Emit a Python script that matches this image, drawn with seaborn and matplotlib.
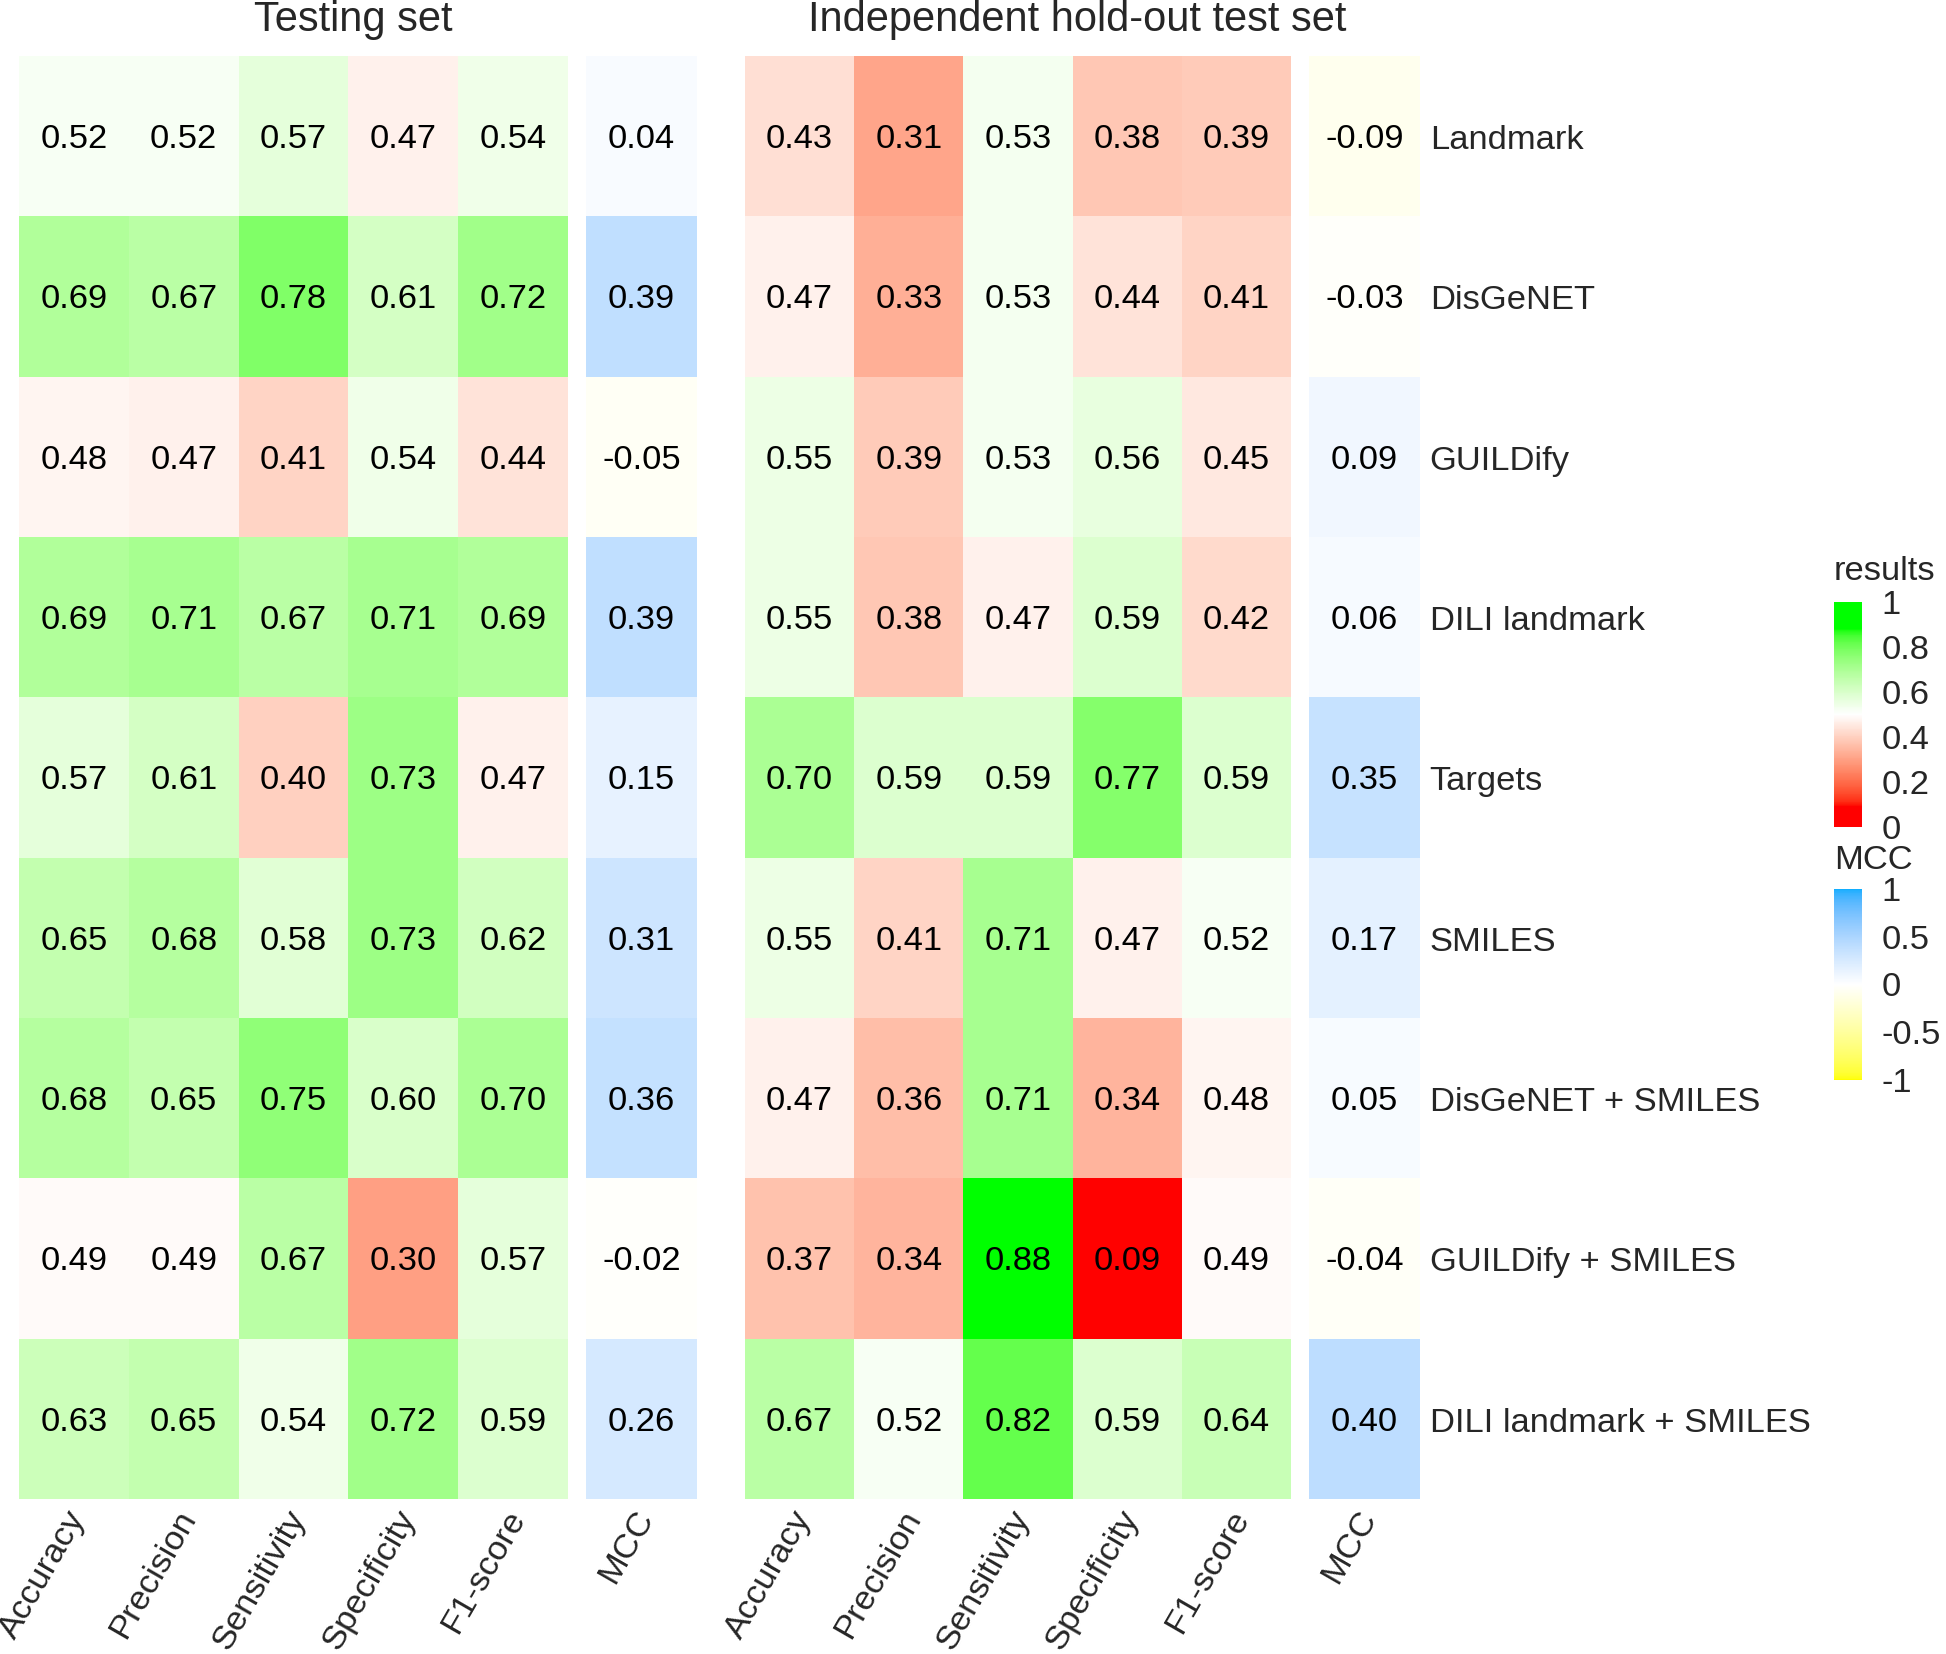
#!/usr/bin/env python3
"""Heatmap of model performance on testing set and hold-out test set
"""

import numpy as np
import pandas as pd
import matplotlib
matplotlib.use('Agg')
import matplotlib.pyplot as plt
import matplotlib.colors as mcolors
from matplotlib.transforms import ScaledTranslation
import seaborn as sns


features = ['Landmark', 'DisGeNET', 'GUILDify', 'DILI landmark', 'Targets',
            'SMILES', 'DisGeNET + SMILES', 'GUILDify + SMILES',
            'DILI landmark + SMILES']
metrics = ['Accuracy', 'Precision', 'Sensitivity', 'Specificity', 'F1-score']

# testing set
test_accuracy = [0.52, 0.69, 0.48, 0.69, 0.57, 0.65, 0.68, 0.49, 0.63]
test_precision = [0.52, 0.67, 0.47, 0.71, 0.61, 0.68, 0.65, 0.49, 0.65]
test_sensitivity = [0.57, 0.78, 0.41, 0.67, 0.40, 0.58, 0.75, 0.67, 0.54]
test_specificity = [0.47, 0.61, 0.54, 0.71, 0.73, 0.73, 0.60, 0.30, 0.72]
test_f1 = [0.54, 0.72, 0.44, 0.69, 0.47, 0.62, 0.70, 0.57, 0.59]
test_mcc = [0.04, 0.39, -0.05, 0.39, 0.15, 0.31, 0.36, -0.02, 0.26]

# independent hold-out test set
hold_accuracy = [0.43, 0.47, 0.55, 0.55, 0.70, 0.55, 0.47, 0.37, 0.67]
hold_precision = [0.31, 0.33, 0.39, 0.38, 0.59, 0.41, 0.36, 0.34, 0.52]
hold_sensitivity = [0.53, 0.53, 0.53, 0.47, 0.59, 0.71, 0.71, 0.88, 0.82]
hold_specificity = [0.38, 0.44, 0.56, 0.59, 0.77, 0.47, 0.34, 0.09, 0.59]
hold_f1 = [0.39, 0.41, 0.45, 0.42, 0.59, 0.52, 0.48, 0.49, 0.64]
hold_mcc = [-0.09, -0.03, 0.09, 0.06, 0.35, 0.17, 0.05, -0.04, 0.40]

W, H = 1946, 1654
FS = 24.8


def srgb_to_lab(rgb):
    c = np.asarray(rgb, dtype=float)
    lin = np.where(c <= 0.04045, c / 12.92, ((c + 0.055) / 1.055) ** 2.4)
    m = np.array([[0.4124, 0.3576, 0.1805],
                  [0.2126, 0.7152, 0.0722],
                  [0.0193, 0.1192, 0.9505]])
    xyz = m @ lin / np.array([0.95047, 1.0, 1.08883])
    d = 6 / 29
    f = np.where(xyz > d ** 3, np.cbrt(xyz), xyz / (3 * d * d) + 4 / 29)
    return np.array([116 * f[1] - 16, 500 * (f[0] - f[1]), 200 * (f[1] - f[2])])


def lab_to_srgb(lab):
    L, a, b = lab
    fy = (L + 16) / 116
    fx = fy + a / 500
    fz = fy - b / 200
    d = 6 / 29
    f = np.array([fx, fy, fz])
    xyz = np.where(f > d, f ** 3, 3 * d * d * (f - 4 / 29))
    xyz = xyz * np.array([0.95047, 1.0, 1.08883])
    minv = np.array([[3.2406, -1.5372, -0.4986],
                     [-0.9689, 1.8758, 0.0415],
                     [0.0557, -0.2040, 1.0570]])
    lin = np.clip(minv @ xyz, 0, 1)
    c = np.where(lin <= 0.0031308, 12.92 * lin, 1.055 * lin ** (1 / 2.4) - 0.055)
    return np.clip(c, 0, 1)


def lab_cmap(name, stops, colors, n=256):
    """colour ramp interpolated in Lab space, like ggplot"""
    labs = [srgb_to_lab(mcolors.to_rgb(c)) for c in colors]
    out = []
    for x in np.linspace(0, 1, n):
        i = np.searchsorted(stops, x, side='right') - 1
        i = min(max(i, 0), len(stops) - 2)
        t = (x - stops[i]) / (stops[i + 1] - stops[i])
        t = min(max(t, 0), 1)
        out.append(lab_to_srgb(labs[i] * (1 - t) + labs[i + 1] * t))
    return mcolors.ListedColormap(out, name=name)


def main():
    sns.set_style('white')
    plt.rcParams['font.family'] = ['Liberation Sans', 'DejaVu Sans']

    test_df = pd.DataFrame(dict(zip(metrics, [test_accuracy, test_precision,
                                              test_sensitivity, test_specificity,
                                              test_f1])), index=features)
    hold_df = pd.DataFrame(dict(zip(metrics, [hold_accuracy, hold_precision,
                                              hold_sensitivity, hold_specificity,
                                              hold_f1])), index=features)
    test_mcc_df = pd.DataFrame({'MCC': test_mcc}, index=features)
    hold_mcc_df = pd.DataFrame({'MCC': hold_mcc}, index=features)

    all_res = np.concatenate([test_df.values.ravel(), hold_df.values.ravel()])
    lo, hi = all_res.min(), all_res.max()
    res_cmap = lab_cmap('results', [0, lo, 0.5, hi, 1],
                        ['#FF0000', '#FF0000', '#FFFFFF', '#00FF00', '#00FF00'])
    mcc_cmap = lab_cmap('mcc', [0, 0.5, 1], ['#FFFF00', '#FFFFFF', '#12AEFF'])

    fig = plt.figure(figsize=(W / 100, H / 100), dpi=100)

    def add_ax(x0, x1, y0, y1):
        return fig.add_axes([x0 / W, 1 - y1 / H, (x1 - x0) / W, (y1 - y0) / H])

    top, bottom = 56, 1499
    ax_test = add_ax(19, 568, top, bottom)
    ax_tmcc = add_ax(586, 697, top, bottom)
    ax_hold = add_ax(745, 1291, top, bottom)
    ax_hmcc = add_ax(1309, 1420, top, bottom)
    cax_res = add_ax(1834, 1862, 602, 827)
    cax_mcc = add_ax(1834, 1862, 889, 1080)

    kw = dict(annot=True, fmt='.2f', annot_kws={'size': FS, 'color': 'black'},
              yticklabels=False, xticklabels=True)
    sns.heatmap(test_df, ax=ax_test, cmap=res_cmap, vmin=0, vmax=1,
                cbar=True, cbar_ax=cax_res, **kw)
    sns.heatmap(test_mcc_df, ax=ax_tmcc, cmap=mcc_cmap, vmin=-1, vmax=1,
                cbar=True, cbar_ax=cax_mcc, **kw)
    sns.heatmap(hold_df, ax=ax_hold, cmap=res_cmap, vmin=0, vmax=1,
                cbar=False, **kw)
    sns.heatmap(hold_mcc_df, ax=ax_hmcc, cmap=mcc_cmap, vmin=-1, vmax=1,
                cbar=False, **kw)

    shift = ScaledTranslation(5 / 100, 0, fig.dpi_scale_trans)
    for ax in [ax_test, ax_tmcc, ax_hold, ax_hmcc]:
        ax.set_xlabel('')
        ax.set_ylabel('')
        ax.tick_params(axis='x', length=0, pad=10, labelsize=FS)
        for lab in ax.get_xticklabels():
            lab.set_rotation(60)
            lab.set_ha('right')
            lab.set_va('center')
            lab.set_rotation_mode('anchor')
            lab.set_transform(lab.get_transform() + shift)
        # nudge the cell numbers down a touch
        for t in ax.texts:
            x, y = t.get_position()
            t.set_position((x, y + 0.02))

    # row labels on the right
    ax_hmcc.set_yticks(np.arange(len(features)) + 0.505)
    ax_hmcc.set_yticklabels(features, rotation=0)
    ax_hmcc.yaxis.tick_right()
    ax_hmcc.tick_params(axis='y', length=0, pad=7, labelsize=FS)

    # panel titles
    fig.text(353 / W, 1 - 20 / H, 'Testing set', ha='center', va='center',
             fontsize=30)
    fig.text(1077 / W, 1 - 20 / H, 'Independent hold-out test set',
             ha='center', va='center', fontsize=30)

    # colour bars
    for cax, ticks, labels, title, ty in [
            (cax_res, [0, 0.2, 0.4, 0.6, 0.8, 1],
             ['0', '0.2', '0.4', '0.6', '0.8', '1'], 'results', 571),
            (cax_mcc, [-1, -0.5, 0, 0.5, 1],
             ['-1', '-0.5', '0', '0.5', '1'], 'MCC', 860)]:
        cax.set_yticks(ticks)
        cax.set_yticklabels(labels)
        cax.tick_params(axis='y', direction='in', color='white', width=2,
                        length=6, left=True, right=True, labelleft=False,
                        labelright=True, labelsize=FS, pad=14)
        for s in cax.spines.values():
            s.set_visible(False)
        fig.text(1834 / W, 1 - ty / H, title, ha='left', va='center',
                 fontsize=FS)
    for ax in [ax_test, ax_tmcc]:
        ax.collections[0].colorbar.outline.set_visible(False)

    fig.savefig('out.png', dpi=100)


if __name__ == '__main__':
    main()
